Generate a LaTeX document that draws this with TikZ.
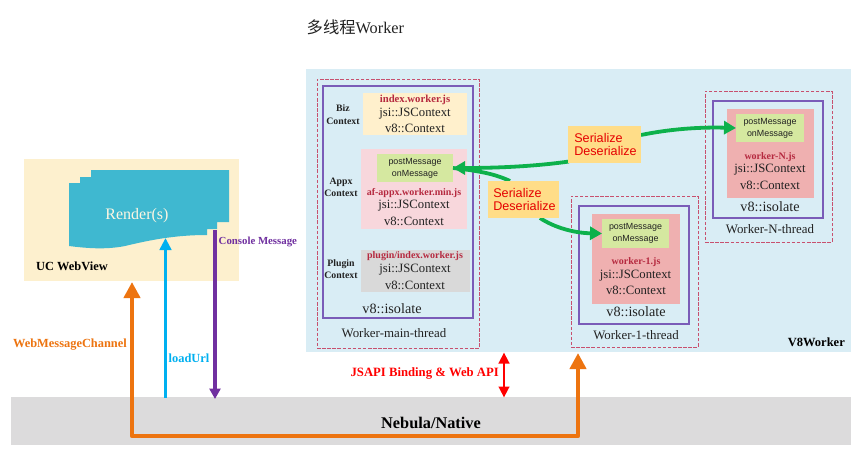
\documentclass[tikz,border=0pt]{standalone}
\usepackage{fontspec}
\setmainfont{Liberation Serif}
\setsansfont{Liberation Sans}
\newfontfamily\cjkfont{Noto Sans CJK SC}
\usetikzlibrary{arrows.meta,fit}
\definecolor{cPanel}{HTML}{D9EDF5}
\definecolor{cBeige}{HTML}{FDF0CE}
\definecolor{cBand}{HTML}{DCDBDC}
\definecolor{cRender}{HTML}{3FB8D0}
\definecolor{cBiz}{HTML}{FFF0CC}
\definecolor{cAppx}{HTML}{F8D7DC}
\definecolor{cMsg}{HTML}{D5E8A0}
\definecolor{cPlug}{HTML}{D9D9D9}
\definecolor{cWork}{HTML}{EFB0B0}
\definecolor{cSer}{HTML}{FFDD88}
\definecolor{cDash}{HTML}{C8506E}
\definecolor{cIso}{HTML}{7A5CB8}
\definecolor{cFile}{HTML}{B5293F}
\definecolor{cPurple}{HTML}{7030A0}
\definecolor{cOrange}{HTML}{ED7410}
\definecolor{cSky}{HTML}{00B0F0}
\definecolor{cGreen}{HTML}{0DB14B}
\definecolor{cText}{HTML}{222222}
\newcommand{\fs}[1]{\fontsize{#1}{#1}\selectfont}
\newcommand{\rbox}[6]{% name, x1,y1,x2,y2, style
  \path (#2,#3) coordinate (#1-a) (#4,#5) coordinate (#1-b);
  \node[fit=(#1-a)(#1-b),inner sep=0pt,outer sep=0pt,#6] (#1) {};}
\tikzset{
  x=1pt,y=-1pt,
  fillbox/.style={draw=none,fill=#1},
  threadbox/.style={draw=cDash,line width=1pt,dash pattern=on 3.5pt off 1.6pt},
  isobox/.style={draw=cIso,line width=1.3pt},
  txt/.style={inner sep=0pt,outer sep=0pt,align=center,text=cText,font=\fs{12.7}},
  file/.style={inner sep=0pt,outer sep=0pt,text=cFile,font=\fs{10}\bfseries},
  ctx/.style={inner sep=0pt,outer sep=0pt,align=center,text=cText,font=\fs{9.8}\bfseries},
  msg/.style={inner sep=0pt,outer sep=0pt,align=center,text=cText,font=\sffamily\fs{8.9}},
  iso/.style={inner sep=0pt,outer sep=0pt,text=cText,font=\fs{14.2}},
  thr/.style={inner sep=0pt,outer sep=0pt,text=cText,font=\fs{12.9}},
  ser/.style={fill=cSer,inner sep=0pt,outer sep=0pt,minimum height=37pt,align=left,text=red!90!black,font=\sffamily\fs{12.6}},
  greenarrow/.style={draw=cGreen,line width=3.8pt,-{Triangle[length=12pt,width=13pt]}},
  greenline/.style={draw=cGreen,line width=3.8pt},
}
\begin{document}
\begin{tikzpicture}
\useasboundingbox (0,0) rectangle (857,453);
\fill[white] (0,0) rectangle (857,453);
\node[inner sep=0pt,anchor=west,text=cText,font=\fs{16.3}] (title) at (306.5,27) {{\cjkfont 多线程}Worker};

% main areas
\rbox{uc}{24}{159}{239}{281}{fillbox=cBeige}
\rbox{band}{11}{397}{851}{445}{fillbox=cBand}
\rbox{panel}{306}{69}{851}{352}{fillbox=cPanel}

% render
\fill[cRender] (69,183) -- (80,183) -- (80,177) -- (91,177) -- (91,170) -- (229,170) -- (229,222) -- (217,222) -- (217,229) -- (207,229) -- (207,235)
  .. controls (175,235) and (150,240) .. (125,246) .. controls (105,250) and (85,248) .. (69,246) -- cycle;
\coordinate (render-in) at (165.5,238);
\coordinate (render-out) at (215,230);
\node[inner sep=0pt,text=cBeige!60!white,font=\fs{16}] (render) at (137,216) {Render(s)};
\node[inner sep=0pt,anchor=west,text=black,font=\fs{12.4}\bfseries] (uclabel) at (36,266.5) {UC WebView};

% main thread
\rbox{mainT}{317}{79}{479}{348}{threadbox}
\rbox{mainI}{323}{86}{473}{318}{isobox}
\rbox{biz}{363}{93}{467}{135}{fillbox=cBiz}
\rbox{appx}{361}{149}{467}{229}{fillbox=cAppx}
\rbox{plug}{361}{250}{470}{292}{fillbox=cPlug}
\rbox{appxmsg}{377}{154}{453}{182}{fillbox=cMsg}
\node[ctx] (bizL) at (343,114.5) {Biz\\[2.5pt]Context};
\node[ctx] (appxL) at (341,187.5) {Appx\\[2.5pt]Context};
\node[ctx] (plugL) at (341,269) {Plugin\\[2.5pt]Context};
\node[file,font=\fs{10.7}\bfseries] (bizF) at (415,99.5) {index.worker.js};
\node[txt] (bizJ) at (415,113.5) {jsi::JSContext};
\node[txt] (bizV) at (415,128.5) {v8::Context};
\node[msg] (appxM) at (415,168) {postMessage\\[3pt]onMessage};
\node[file] (appxF) at (414,193) {af-appx.worker.min.js};
\node[txt] (appxJ) at (414,206) {jsi::JSContext};
\node[txt] (appxV) at (414,221) {v8::Context};
\node[file] (plugF) at (415,256.5) {plugin/index.worker.js};
\node[txt] (plugJ) at (415,270) {jsi::JSContext};
\node[txt] (plugV) at (415,285) {v8::Context};
\node[iso] (mainIso) at (392,309) {v8::isolate};
\node[thr] (mainTh) at (394,333) {Worker-main-thread};

% worker 1
\rbox{oneT}{571}{196}{698}{347}{threadbox}
\rbox{oneI}{579}{206}{689}{324}{isobox}
\rbox{oneR}{592}{214}{680}{304}{fillbox=cWork}
\rbox{onemsg}{602}{219}{669}{248}{fillbox=cMsg}
\node[msg] (oneM) at (635.5,233.5) {postMessage\\[3pt]onMessage};
\node[file] (oneF) at (636,262.5) {worker-1.js};
\node[txt] (oneJ) at (635.5,275.5) {jsi::JSContext};
\node[txt] (oneV) at (636,290.5) {v8::Context};
\node[iso] (oneIso) at (636,312) {v8::isolate};
\node[thr] (oneTh) at (636,335) {Worker-1-thread};

% worker N
\rbox{nT}{705}{91}{832}{242}{threadbox}
\rbox{nI}{713}{101}{823}{218}{isobox}
\rbox{nR}{727}{109}{814}{198}{fillbox=cWork}
\rbox{nmsg}{736}{114}{804}{142}{fillbox=cMsg}
\node[msg] (nM) at (770,128) {postMessage\\[3pt]onMessage};
\node[file] (nF) at (770,157) {worker-N.js};
\node[txt] (nJ) at (770,170) {jsi::JSContext};
\node[txt] (nV) at (770,185) {v8::Context};
\node[iso] (nIso) at (770,207) {v8::isolate};
\node[thr] (nTh) at (770,229.5) {Worker-N-thread};

\node[inner sep=0pt,anchor=east,text=black,font=\fs{12.5}\bfseries] (v8w) at (845,342.5) {V8Worker};

% green connectors
\coordinate (s1w) at (569,161.5);
\coordinate (s2n) at (510,181);
\coordinate (s2s) at (540,218);
\coordinate (s1e) at (641,135);
\draw[greenline] (s2n) .. controls (495,174) and (480,171) .. (appxmsg.east);
\draw[greenarrow] (s1w) .. controls (530,167) and (490,168) .. (appxmsg.east);
\draw[greenarrow] (s2s) .. controls (555,228) and (575,233) .. (onemsg.west);
\draw[greenarrow] (s1e) .. controls (670,129) and (700,127) .. (nmsg.west);

\node[ser,minimum width=71pt] (ser2) at (523.5,199.5) {\hspace*{2pt}Serialize\\\hspace*{2pt}Deserialize};
\node[ser,minimum width=73pt] (ser1) at (604.5,144.5) {\hspace*{2pt}Serialize\\\hspace*{2pt}Deserialize};

% lower arrows
\coordinate (orangeTop) at (132,282);
\coordinate (orangeBL) at (132,436);
\coordinate (orangeBR) at (578,436);
\coordinate (orangeEnd) at (578,353);
\coordinate (skyBase) at (165.5,397.5);
\coordinate (purpleEnd) at (215,399);
\coordinate (redTop) at (504,352.5);
\coordinate (redBot) at (504,397.5);

\draw[cOrange,line width=4.6pt,line join=round,{Triangle[length=16pt,width=16pt]}-{Triangle[length=16pt,width=16pt]}] (orangeTop) -- (orangeBL) -- (orangeBR) -- (orangeEnd);
\draw[cSky,line width=3.6pt,-{Triangle[length=12pt,width=11.5pt]}] (skyBase) -- (render-in);
\draw[cPurple,line width=3.4pt,-{Triangle[length=10.5pt,width=11pt]}] (render-out) -- (purpleEnd);
\draw[red,line width=2.6pt,{Triangle[length=11pt,width=10.5pt]}-{Triangle[length=11pt,width=10.5pt]}] (redTop) -- (redBot);

% labels
\node[inner sep=0pt,anchor=west,text=cPurple,font=\fs{10.8}\bfseries] (consoleL) at (218.5,242) {Console Message};
\node[inner sep=0pt,anchor=west,text=cSky,font=\fs{12.4}\bfseries] (loadL) at (168.5,358) {loadUrl};
\node[inner sep=0pt,anchor=east,text=cOrange,font=\fs{12.4}\bfseries] (wmcL) at (127,345) {WebMessageChannel};
\node[inner sep=0pt,anchor=east,text=red,font=\fs{12.7}\bfseries] (jsapiL) at (499,373.5) {JSAPI Binding \& Web API};
\node[inner sep=0pt,text=black,font=\fs{16.3}\bfseries] (nebula) at (431,423) {Nebula/Native};
\end{tikzpicture}
\end{document}
